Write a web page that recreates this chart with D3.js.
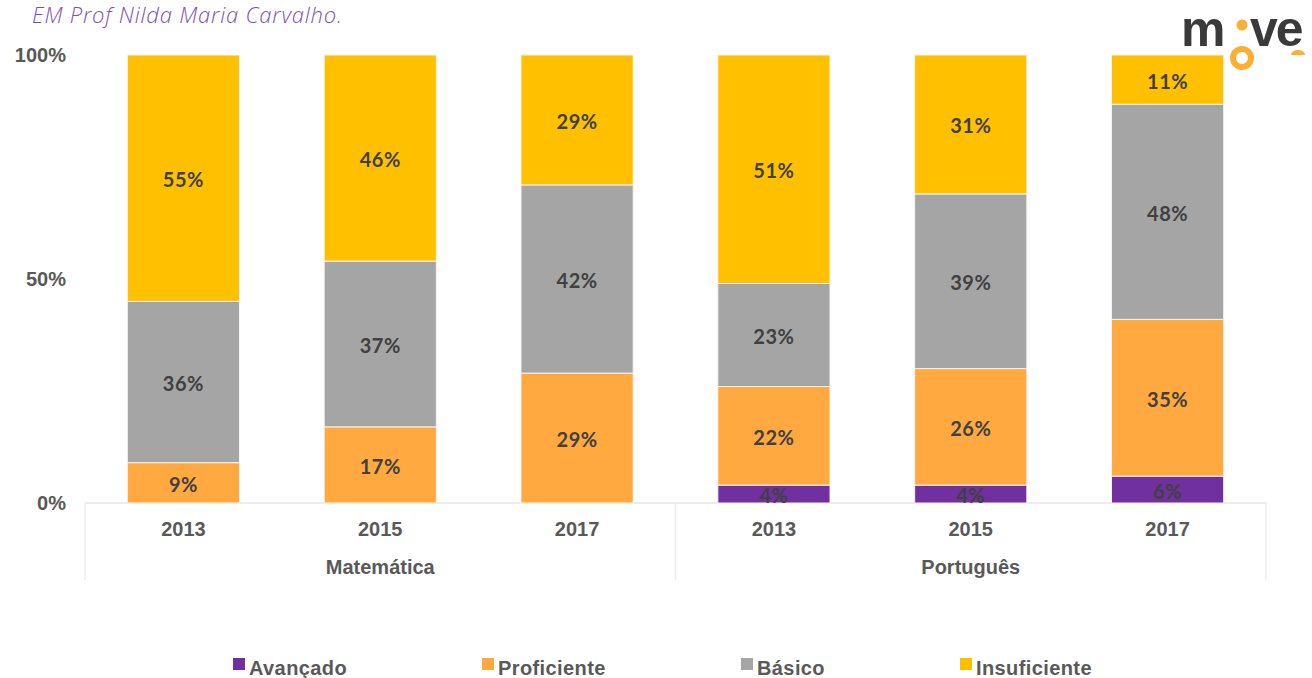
<!DOCTYPE html>
<html>
<head>
<meta charset="utf-8">
<script src="https://cdn.jsdelivr.net/npm/d3@7"></script>
<style>
	body { margin: 0; background: #fff; }
	svg { display: block; }
</style>
</head>
<body>
<svg id="chart" width="1312" height="678"></svg>
<script>
/* chart data */
const groups = ["Matemática", "Português"];
const years = ["2013", "2015", "2017"];
const levels = ["Avançado", "Proficiente", "Básico", "Insuficiente"];
const colors = ["#7030a0", "#ffa940", "#a5a5a5", "#ffc000"];
// one entry per bar, in group/year order (percent)
const avancado = [0, 0, 0, 4, 4, 6];
const proficiente = [9, 17, 29, 22, 26, 35];
const basico = [36, 37, 42, 23, 39, 48];
const insuficiente = [55, 46, 29, 51, 31, 11];
const yTicks = [0, 50, 100];

const svg = d3.select("#chart");
const width = 1312;
const marginLeft = 85, marginRight = 46, plotTop = 55, plotBottom = 503;

// build rows for the stack
const rows = [];
groups.forEach((g, gi) => years.forEach((yr, yi) => {
	const i = gi * years.length + yi;
	rows.push({
		key: g + "|" + yr, group: g, year: yr,
		"Avançado": avancado[i], "Proficiente": proficiente[i],
		"Básico": basico[i], "Insuficiente": insuficiente[i]
	});
}));

const x = d3.scaleBand()
	.domain(rows.map(d => d.key))
	.range([marginLeft, width - marginRight])
	.paddingInner(0.43)
	.paddingOuter(0.215);

const y = d3.scaleLinear().domain([0, 100]).range([plotBottom, plotTop]);

const stack = d3.stack().keys(levels)(rows);
const color = d3.scaleOrdinal().domain(levels).range(colors);

// title
svg.append("text")
	.attr("x", 32).attr("y", 23)
	.attr("fill", "#7f4fb3")
	.attr("font-family", "'Open Sans', sans-serif")
	.attr("font-weight", 300)
	.attr("font-style", "italic")
	.attr("font-size", "22px")
	.attr("letter-spacing", "0.8")
	.text("EM Prof Nilda Maria Carvalho.");

// logo
const logo = svg.append("g");
logo.append("text")
	.attr("x", 1181).attr("y", 46)
	.attr("fill", "#3a3a3a")
	.attr("font-family", "'Liberation Sans', Arial, sans-serif")
	.attr("font-weight", "bold")
	.attr("font-size", "50px")
	.attr("letter-spacing", "-2")
	.text("m");
logo.append("text")
	.attr("x", 1250).attr("y", 46)
	.attr("fill", "#3a3a3a")
	.attr("font-family", "'Liberation Sans', Arial, sans-serif")
	.attr("font-weight", "bold")
	.attr("font-size", "50px")
	.attr("letter-spacing", "-2")
	.text("ve");
logo.append("circle").attr("cx", 1242).attr("cy", 25).attr("r", 5.5).attr("fill", "#fbb034");
logo.append("circle").attr("cx", 1242).attr("cy", 58).attr("r", 9)
	.attr("fill", "none").attr("stroke", "#fbb034").attr("stroke-width", 6);
logo.append("path")
	.attr("d", "M1291,55 A7,5 0 0 1 1305,55 Z")
	.attr("fill", "#fbb034");

// category axis lines
const axisColor = "#ececec";
svg.append("line")
	.attr("x1", marginLeft).attr("x2", width - marginRight)
	.attr("y1", plotBottom).attr("y2", plotBottom)
	.attr("stroke", axisColor).attr("stroke-width", 2);
const sepX = [marginLeft, (marginLeft + width - marginRight) / 2, width - marginRight];
sepX.forEach(sx => {
	svg.append("line")
		.attr("x1", sx).attr("x2", sx)
		.attr("y1", plotBottom).attr("y2", 580)
		.attr("stroke", axisColor).attr("stroke-width", 1.5);
});

// y tick labels
svg.append("g").selectAll("text")
	.data(yTicks)
	.join("text")
	.attr("x", 66)
	.attr("y", d => y(d) + 7)
	.attr("text-anchor", "end")
	.attr("fill", "#595959")
	.attr("font-family", "'Liberation Sans', Arial, sans-serif")
	.attr("font-weight", "bold")
	.attr("font-size", "20px")
	.text(d => d + "%");

// bars
const layer = svg.append("g").selectAll("g")
	.data(stack)
	.join("g")
	.attr("fill", d => color(d.key));

layer.selectAll("rect")
	.data(d => d.filter(s => s[1] - s[0] > 0))
	.join("rect")
	.attr("x", d => x(d.data.key))
	.attr("width", x.bandwidth())
	.attr("y", d => y(d[1]))
	.attr("height", d => y(d[0]) - y(d[1]))
	.attr("stroke", "#f4f4f4")
	.attr("stroke-width", 1);

// value labels
const labels = svg.append("g").selectAll("g")
	.data(stack)
	.join("g");
labels.selectAll("text")
	.data(d => d.filter(s => s[1] - s[0] > 0))
	.join("text")
	.attr("x", d => x(d.data.key) + x.bandwidth() / 2)
	.attr("y", d => (y(d[0]) + y(d[1])) / 2 + 9)
	.attr("text-anchor", "middle")
	.attr("fill", "#404040")
	.attr("font-family", "Lato, sans-serif")
	.attr("font-weight", "bold")
	.attr("font-size", "20px")
	.attr("letter-spacing", "0.5")
	.text(d => (d[1] - d[0]) + "%");

// year labels
svg.append("g").selectAll("text")
	.data(rows)
	.join("text")
	.attr("x", d => x(d.key) + x.bandwidth() / 2)
	.attr("y", 536)
	.attr("text-anchor", "middle")
	.attr("fill", "#595959")
	.attr("font-family", "'Liberation Sans', Arial, sans-serif")
	.attr("font-weight", "bold")
	.attr("font-size", "20px")
	.text(d => d.year);

// group labels
svg.append("g").selectAll("text")
	.data(groups)
	.join("text")
	.attr("x", (d, i) => (sepX[i] + sepX[i + 1]) / 2)
	.attr("y", 574)
	.attr("text-anchor", "middle")
	.attr("fill", "#595959")
	.attr("font-family", "'Liberation Sans', Arial, sans-serif")
	.attr("font-weight", "bold")
	.attr("font-size", "20px")
	.text(d => d);

// legend
const legendX = [233, 482, 741, 960];
const legend = svg.append("g").selectAll("g")
	.data(levels)
	.join("g")
	.attr("transform", (d, i) => `translate(${legendX[i]},670)`);
legend.append("rect")
	.attr("x", 0).attr("y", -12)
	.attr("width", 12).attr("height", 12)
	.attr("fill", d => color(d));
legend.append("text")
	.attr("x", 16).attr("y", 5)
	.attr("fill", "#595959")
	.attr("font-family", "'Liberation Sans', Arial, sans-serif")
	.attr("font-weight", "bold")
	.attr("font-size", "20px")
	.attr("letter-spacing", "0.4")
	.text(d => d);
</script>
</body>
</html>
